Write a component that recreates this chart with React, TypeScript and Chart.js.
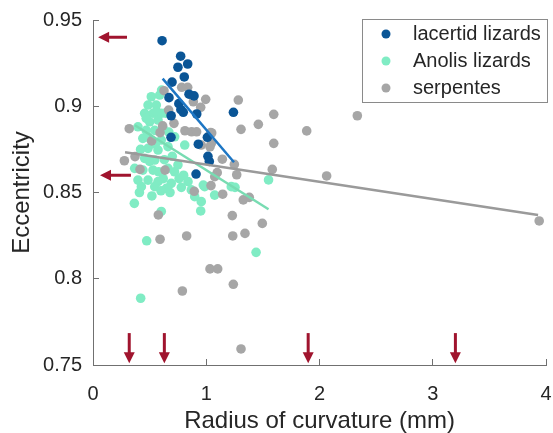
import React, { useEffect, useRef } from "react";
import { Chart, registerables } from "chart.js";

Chart.register(...registerables);

// ---------- data ----------
const seriesNames = ["lacertid lizards", "Anolis lizards", "serpentes"];

const lacertidX = [0.61, 0.774, 0.836, 0.75, 0.806, 0.698, 0.848, 0.892, 0.671, 0.758, 0.776, 0.797, 0.69, 0.916, 1.24, 0.689, 1.01, 0.93, 1.015, 1.027, 0.91];
const lacertidY = [0.938, 0.929, 0.9245, 0.9226, 0.917, 0.914, 0.907, 0.906, 0.905, 0.9015, 0.898, 0.8965, 0.8945, 0.8955, 0.8965, 0.882, 0.882, 0.878, 0.871, 0.868, 0.8607];

const anolisX = [0.515, 0.589, 0.606, 0.486, 0.559, 0.456, 0.53, 0.603, 0.5, 0.574, 0.397, 0.47, 0.545, 0.618, 0.44, 0.515, 0.603, 0.721, 0.486, 0.574, 0.662, 0.81, 0.456, 0.545, 0.368, 0.44, 0.53, 0.662, 0.75, 0.397, 0.486, 0.574, 0.691, 0.839, 0.427, 0.545, 0.648, 0.868, 0.986, 1.074, 1.221, 0.898, 0.365, 0.956, 0.603, 0.474, 0.421, 0.951, 1.44, 1.55, 1.254, 0.974, 0.63, 0.7, 0.64, 0.67, 0.76, 0.8, 0.42, 0.5, 0.58, 0.47, 0.55, 0.62, 0.68, 0.72, 0.41, 0.52, 0.6, 0.78, 0.56, 0.49];
const anolisY = [0.9055, 0.9065, 0.9094, 0.9007, 0.9007, 0.8959, 0.8959, 0.8959, 0.891, 0.892, 0.8881, 0.886, 0.886, 0.8872, 0.8814, 0.8804, 0.8804, 0.8823, 0.8756, 0.8746, 0.8766, 0.8775, 0.8698, 0.8688, 0.864, 0.863, 0.863, 0.864, 0.866, 0.8572, 0.8572, 0.8563, 0.8553, 0.8563, 0.8534, 0.8534, 0.8524, 0.8515, 0.8534, 0.8485, 0.8534, 0.8476, 0.8437, 0.8447, 0.839, 0.822, 0.7887, 0.8393, 0.8153, 0.8573, 0.853, 0.8543, 0.869, 0.871, 0.896, 0.885, 0.858, 0.86, 0.875, 0.868, 0.862, 0.893, 0.878, 0.858, 0.85, 0.862, 0.85, 0.848, 0.851, 0.853, 0.897, 0.882];

const serpX = [0.627, 0.783, 0.836, 0.995, 1.283, 0.886, 0.951, 0.668, 1.596, 2.334, 0.32, 0.615, 0.715, 1.307, 1.46, 1.887, 0.592, 0.812, 0.871, 0.915, 1.039, 0.518, 1.596, 0.956, 1.045, 0.277, 0.415, 0.371, 0.636, 1.142, 1.248, 1.269, 1.583, 2.063, 1.097, 1.042, 0.894, 1.145, 1.327, 1.38, 0.577, 1.23, 1.495, 0.592, 0.827, 1.234, 1.342, 1.033, 1.101, 0.789, 1.239, 1.307, 3.94, 1.075, 1.048, 1.033];
const serpY = [0.909, 0.911, 0.911, 0.904, 0.9036, 0.9026, 0.8994, 0.8978, 0.8953, 0.8945, 0.887, 0.8886, 0.8901, 0.8866, 0.8895, 0.8857, 0.8847, 0.8858, 0.8852, 0.8852, 0.8847, 0.8799, 0.8785, 0.8775, 0.8785, 0.8684, 0.8634, 0.8708, 0.863, 0.8693, 0.8663, 0.8603, 0.8634, 0.8596, 0.8615, 0.854, 0.8507, 0.849, 0.8457, 0.8472, 0.837, 0.8366, 0.8321, 0.8229, 0.8248, 0.8248, 0.8263, 0.8057, 0.8057, 0.7929, 0.7968, 0.7593, 0.8335, 0.8592, 0.8845, 0.8765];

// regression lines (end points)
const lacertidFitX = [0.615, 1.245];
const lacertidFitY = [0.916, 0.8675];
const anolisFitX = [0.37, 1.55];
const anolisFitY = [0.889, 0.8403];
const serpFitX = [0.283, 3.93];
const serpFitY = [0.8733, 0.837];

// annotation arrows
const leftArrowY = [0.94, 0.86];
const leftArrowHeadX = [0.045, 0.062];
const leftArrowTailX = [0.3, 0.335];
const downArrowX = [0.32, 0.63, 1.9, 3.2];
const downArrowTailY = 0.7685;
const downArrowHeadY = 0.751;

// axes
const xTicks = [0, 1, 2, 3, 4];
const xTickLabels = ["0", "1", "2", "3", "4"];
const yTicks = [0.75, 0.8, 0.85, 0.9, 0.95];
const yTickLabels = ["0.75", "0.8", "0.85", "0.9", "0.95"];

// ---------- styles ----------
const FONT = "'Liberation Sans', Arial, Helvetica, sans-serif";
const C_LAC = "#0a5596";
const C_LAC_LINE = "#1d76c4";
const C_ANO = "#80ecc4";
const C_ANO_LINE = "#78dcb2";
const C_SER = "#a6a6a6";
const C_SER_LINE = "#9a9a9a";
const C_ARROW = "#a0142e";
const C_AXIS = "#707070";
const C_TEXT = "#262626";

const zip = (xs: number[], ys: number[]) => xs.map((x, i) => ({ x, y: ys[i] }));

const arrowPlugin = {
  id: "arrows",
  afterDatasetsDraw(chart: any) {
    const { ctx, scales } = chart;
    const xs = scales.x;
    const ys = scales.y;
    ctx.save();
    ctx.fillStyle = C_ARROW;
    ctx.strokeStyle = C_ARROW;
    ctx.lineWidth = 3;
    leftArrowY.forEach((yv, i) => {
      const y = ys.getPixelForValue(yv);
      const hx = xs.getPixelForValue(leftArrowHeadX[i]);
      const tx = xs.getPixelForValue(leftArrowTailX[i]);
      ctx.beginPath();
      ctx.moveTo(hx + 9, y);
      ctx.lineTo(tx, y);
      ctx.stroke();
      ctx.beginPath();
      ctx.moveTo(hx, y);
      ctx.lineTo(hx + 11, y - 5.5);
      ctx.lineTo(hx + 11, y + 5.5);
      ctx.closePath();
      ctx.fill();
    });
    downArrowX.forEach((xv) => {
      const x = xs.getPixelForValue(xv);
      const ty = ys.getPixelForValue(downArrowTailY);
      const hy = ys.getPixelForValue(downArrowHeadY);
      ctx.beginPath();
      ctx.moveTo(x, ty);
      ctx.lineTo(x, hy - 9);
      ctx.stroke();
      ctx.beginPath();
      ctx.moveTo(x, hy);
      ctx.lineTo(x - 5.5, hy - 11);
      ctx.lineTo(x + 5.5, hy - 11);
      ctx.closePath();
      ctx.fill();
    });
    ctx.restore();
  },
};

const legendPlugin = {
  id: "customLegend",
  afterDraw(chart: any) {
    const { ctx } = chart;
    const colors = [C_LAC, C_ANO, C_SER];
    const bx = 362, by = 19, bw = 185, bh = 83;
    ctx.save();
    ctx.fillStyle = "#ffffff";
    ctx.fillRect(bx, by, bw, bh);
    ctx.strokeStyle = "#8a8a8a";
    ctx.lineWidth = 1;
    ctx.strokeRect(bx + 0.5, by + 0.5, bw, bh);
    ctx.font = `20px ${FONT}`;
    ctx.textBaseline = "middle";
    ctx.textAlign = "left";
    seriesNames.forEach((name, i) => {
      const y = by + 15 + i * 27;
      ctx.fillStyle = colors[i];
      ctx.beginPath();
      ctx.arc(bx + 24, y, 4.5, 0, Math.PI * 2);
      ctx.fill();
      ctx.fillStyle = C_TEXT;
      ctx.fillText(name, bx + 51, y);
    });
    ctx.restore();
  },
};

export default function App() {
  const ref = useRef<HTMLCanvasElement | null>(null);

  useEffect(() => {
    document.body.style.margin = "0";
    if (!ref.current) return;
    const lineDs = (label: string, xs: number[], ys: number[], color: string, order: number) => ({
      type: "line" as const,
      label,
      data: zip(xs, ys),
      borderColor: color,
      backgroundColor: color,
      borderWidth: 2.5,
      pointRadius: 0,
      showLine: true,
      fill: false,
      order,
    });
    const scatterDs = (label: string, xs: number[], ys: number[], color: string, order: number) => ({
      type: "scatter" as const,
      label,
      data: zip(xs, ys),
      backgroundColor: color,
      borderColor: color,
      borderWidth: 0,
      pointRadius: 4.8,
      order,
    });

    const chart = new Chart(ref.current, {
      type: "scatter",
      data: {
        datasets: [
          lineDs("lacertid fit", lacertidFitX, lacertidFitY, C_LAC_LINE, 0),
          lineDs("serpentes fit", serpFitX, serpFitY, C_SER_LINE, 1),
          lineDs("Anolis fit", anolisFitX, anolisFitY, C_ANO_LINE, 2),
          scatterDs(seriesNames[0], lacertidX, lacertidY, C_LAC, 3),
          scatterDs(seriesNames[2], serpX, serpY, C_SER, 4),
          scatterDs(seriesNames[1], anolisX, anolisY, C_ANO, 5),
        ] as any,
      },
      options: {
        animation: false,
        responsive: false,
        maintainAspectRatio: false,
        layout: { padding: { left: 0, right: 7, top: 20, bottom: 0 } },
        plugins: {
          legend: { display: false },
          tooltip: { enabled: false },
        },
        scales: {
          x: {
            type: "linear",
            min: 0,
            max: 4,
            afterBuildTicks: (s: any) => {
              s.ticks = xTicks.map((v) => ({ value: v }));
            },
            afterFit: (s: any) => {
              s.height = 68;
              s.paddingLeft = 0;
              s.paddingRight = 0;
              s.paddingTop = 0;
              s.paddingBottom = 0;
            },
            ticks: {
              callback: (_v: any, i: number) => xTickLabels[i],
              font: { family: FONT, size: 20 },
              color: C_TEXT,
              padding: 23,
              maxRotation: 0,
              autoSkip: false,
            },
            grid: {
              display: true,
              drawOnChartArea: false,
              drawTicks: true,
              tickLength: -6,
              color: C_AXIS,
            },
            border: { display: true, color: C_AXIS, width: 1 },
            title: {
              display: true,
              text: "Radius of curvature (mm)",
              font: { family: FONT, size: 24 },
              color: C_TEXT,
              padding: { top: 0, bottom: -3 },
            },
          },
          y: {
            type: "linear",
            min: 0.75,
            max: 0.95,
            afterBuildTicks: (s: any) => {
              s.ticks = yTicks.map((v) => ({ value: v }));
            },
            afterFit: (s: any) => {
              s.width = 93;
              s.paddingLeft = 0;
              s.paddingRight = 0;
              s.paddingTop = 0;
              s.paddingBottom = 0;
            },
            ticks: {
              callback: (_v: any, i: number) => yTickLabels[i],
              font: { family: FONT, size: 20 },
              color: C_TEXT,
              padding: 17,
              autoSkip: false,
            },
            grid: {
              display: true,
              drawOnChartArea: false,
              drawTicks: true,
              tickLength: -6,
              color: C_AXIS,
            },
            border: { display: true, color: C_AXIS, width: 1 },
            title: {
              display: true,
              text: "Eccentricity",
              font: { family: FONT, size: 24 },
              color: C_TEXT,
              padding: { top: 8, bottom: 0 },
            },
          },
        },
      } as any,
      plugins: [arrowPlugin, legendPlugin],
    });
    return () => chart.destroy();
  }, []);

  return (
    <div style={{ width: 553, height: 433, position: "relative", background: "#fff" }}>
      <canvas ref={ref} width={553} height={433} style={{ display: "block", width: 553, height: 433 }} />
    </div>
  );
}
